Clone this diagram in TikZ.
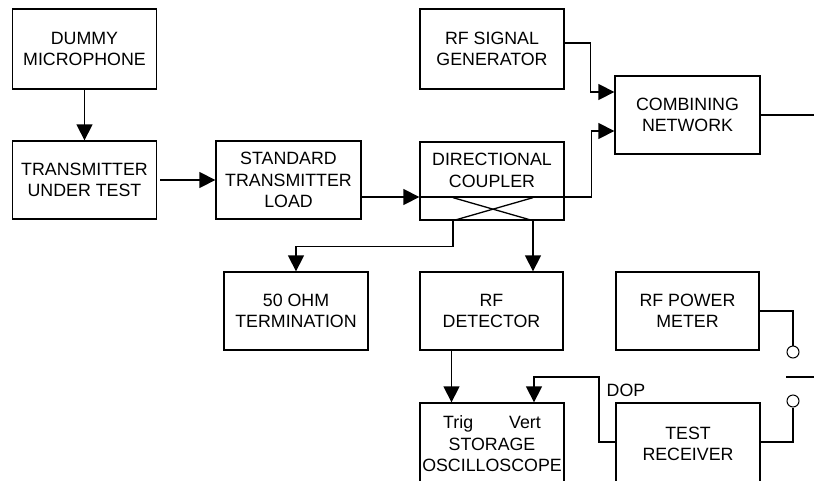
\documentclass[tikz,border=0pt]{standalone}
\usepackage{fontspec}
\setmainfont{Liberation Sans}
\usetikzlibrary{arrows.meta}

\begin{document}
\begin{tikzpicture}[x=1pt,y=-1pt,>={Triangle[length=16pt,width=16pt]},line width=1.3pt]
    \tikzstyle{block}=[draw, rectangle, minimum width=144pt, minimum height=78pt, align=center, inner sep=0pt, font=\fontsize{17.8}{21.5}\selectfont]
    \tikzstyle{contact}=[draw, circle, minimum size=12pt, inner sep=0pt, line width=1pt]
    \tikzstyle{tag}=[font=\fontsize{17.8}{21.5}\selectfont, inner sep=0pt]

    \useasboundingbox (0,0) rectangle (814,480);
    \clip (0,0) rectangle (814,480);

    % blocks
    \node[block, minimum height=80pt] (mic) at (84.5,49) {DUMMY\\MICROPHONE};
    \node[block] (tut) at (84.5,180) {TRANSMITTER\\UNDER TEST};
    \node[block, minimum width=145pt] (load) at (288.5,180) {STANDARD\\TRANSMITTER\\LOAD};
    \node[block] (coupler) at (492,181) {DIRECTIONAL\\COUPLER\\\mbox{}};
    \node[block, minimum height=80pt] (gen) at (492,49) {RF SIGNAL\\GENERATOR};
    \node[block, minimum width=145pt] (comb) at (687.5,115) {COMBINING\\NETWORK};
    \node[block] (term) at (296,311) {50 OHM\\TERMINATION};
    \node[block, minimum width=143pt] (det) at (491.5,311) {RF\\DETECTOR};
    \node[block, minimum width=143pt] (meter) at (687.5,311) {RF POWER\\METER};
    \node[block, minimum height=82pt] (scope) at (492,444) {Trig\hspace{36pt}Vert\\STORAGE\\OSCILLOSCOPE};
    \node[block, minimum height=82pt] (rx) at (688,444) {TEST\\RECEIVER};

    % switch contacts
    \node[contact] (upper) at (793,352) {};
    \node[contact] (lower) at (793,401) {};
    \coordinate (bladeA) at (786,377);
    \coordinate (bladeB) at (814,377);
    \coordinate (out) at (814,115);
    \coordinate (dop) at (599,377);
    \node[tag, anchor=base west] (doplbl) at (606,396) {DOP};

    % transmitter chain
    \draw[->] (mic) -- (tut);
    \draw[->] ([xshift=3pt]tut.east) -- (load);
    \draw[->] ([yshift=-17pt]load.east) -- ([yshift=-16pt]coupler.west);
    \draw[->] ([yshift=-16pt]coupler.west) -- ([xshift=27pt,yshift=-16pt]coupler.east) |- ([yshift=-16pt]comb.west);
    \draw[->] ([yshift=6pt]gen.east) -| ([xshift=-24pt,yshift=23pt]comb.west) -- ([yshift=23pt]comb.west);
    \draw (comb.east) -- (out);

    % coupler cross and outputs
    \draw ([xshift=-39pt]coupler.south) -- ([xshift=41pt,yshift=23pt]coupler.south);
    \draw ([xshift=41pt]coupler.south) -- ([xshift=-39pt,yshift=23pt]coupler.south);
    \draw[->] ([xshift=-39pt]coupler.south) -- ++(0,26) -| (term.north);
    \draw[->] ([xshift=41pt]coupler.south) -- ([xshift=41pt]coupler.south |- det.north);

    % oscilloscope inputs
    \draw[->] ([xshift=-40pt]det.south) -- ([xshift=-40pt]det.south |- scope.north);
    \draw[->] ([yshift=2pt]rx.west) -| (dop) -| ([xshift=42pt]scope.north);

    % power meter switch
    \draw (meter.east) -| (upper.north);
    \draw (bladeA) -- (bladeB);
    \draw ([yshift=2pt]rx.east) -| (lower.south);
\end{tikzpicture}
\end{document}
